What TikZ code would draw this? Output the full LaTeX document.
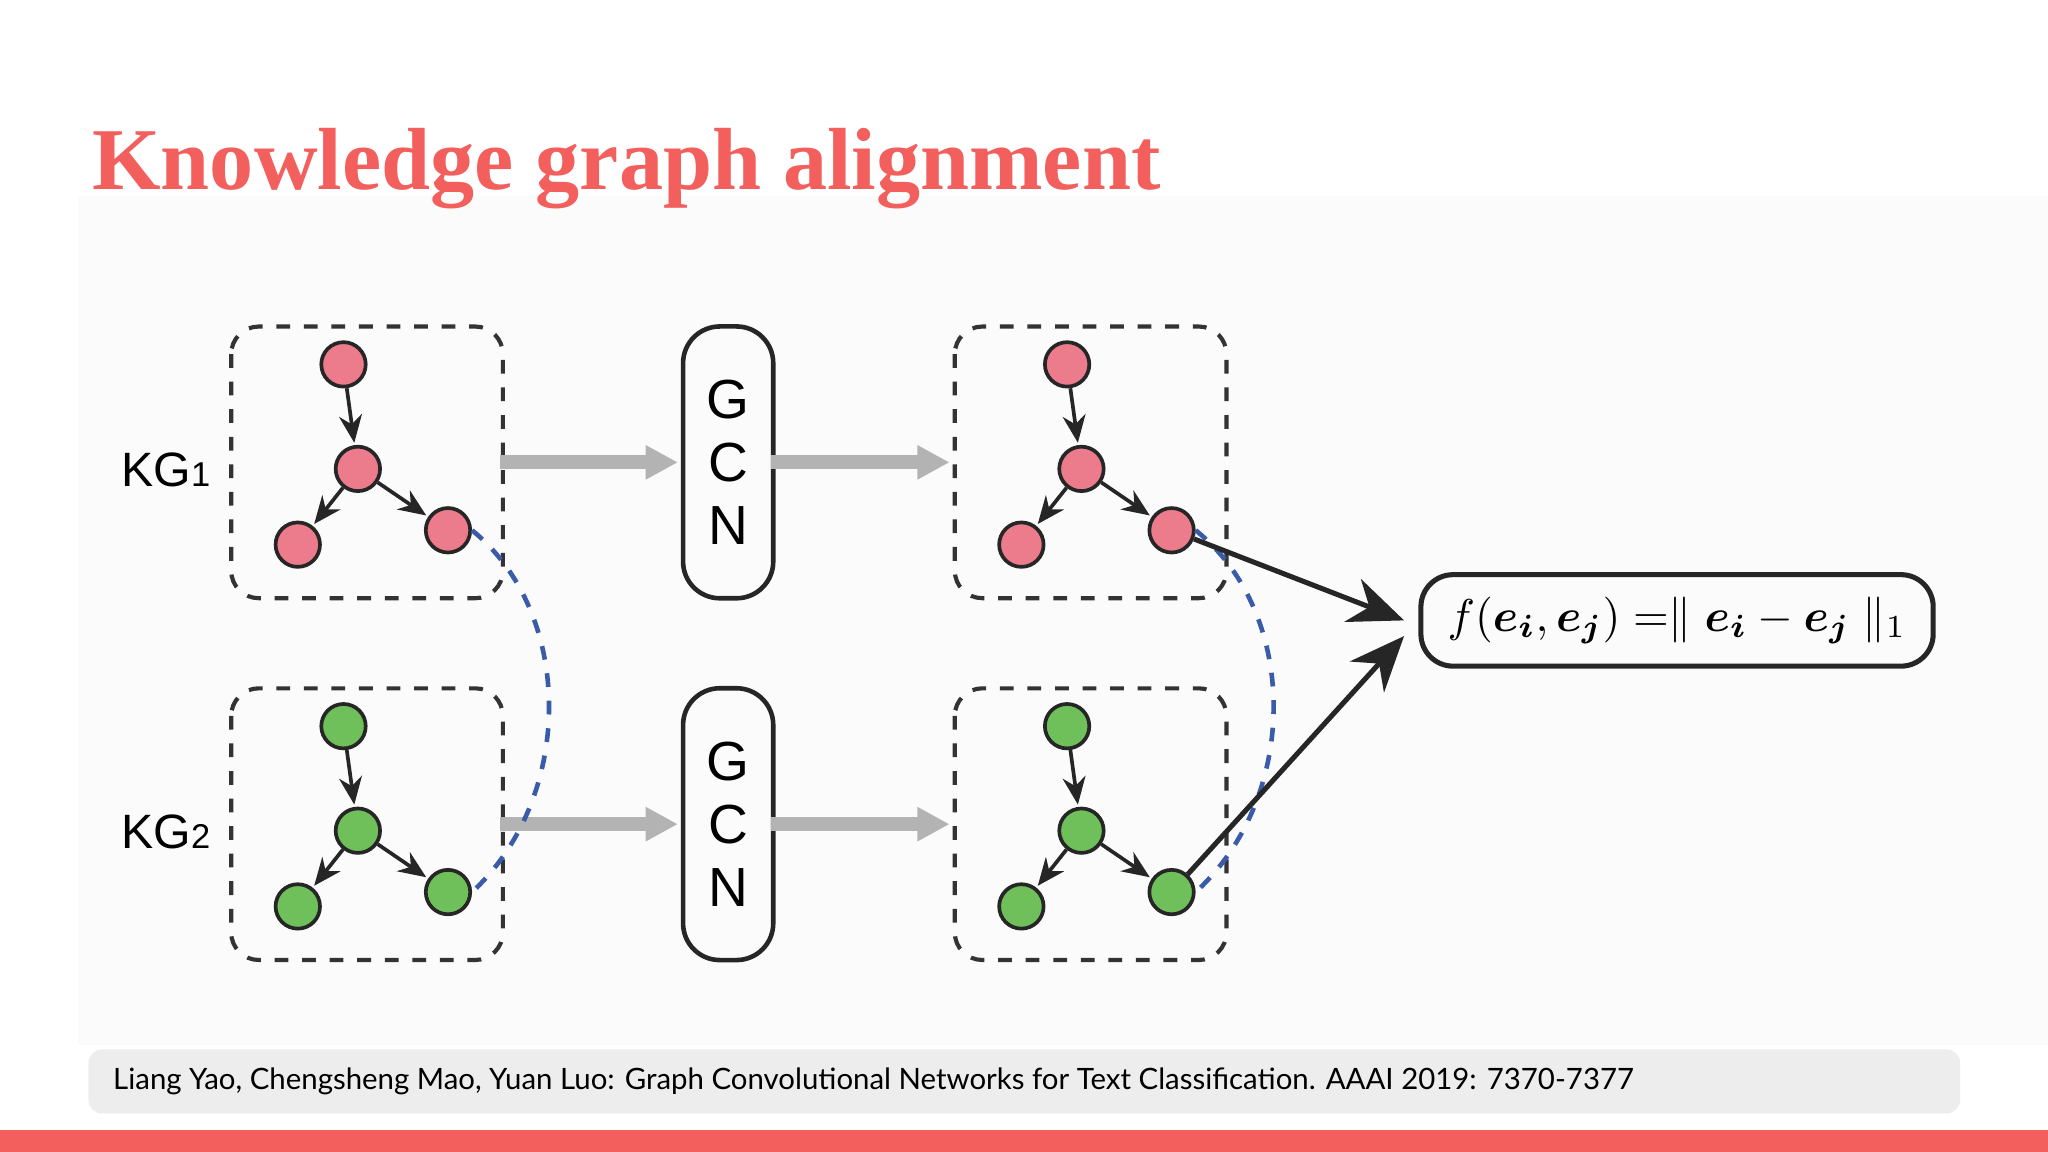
\documentclass[tikz,border=0pt]{standalone}
\usepackage{fontspec}
\usepackage{bm}
\setmainfont{Liberation Serif}
\setsansfont{Liberation Sans}
\newfontfamily\citefont{Lato}
\usetikzlibrary{arrows.meta}
\definecolor{coral}{HTML}{F25F5C}
\definecolor{pinkn}{HTML}{EC7B8B}
\definecolor{greenn}{HTML}{6FBF5A}
\definecolor{bluedash}{HTML}{3A5BA8}
\definecolor{grayarr}{HTML}{B3B3B3}
\tikzset{
  kn/.style={circle,draw=black!85,line width=0.8pt,minimum size=0.34cm,inner sep=0},
  pk/.style={kn,fill=pinkn},
  gn/.style={kn,fill=greenn},
  dbox/.style={draw=black!80,dashed,line width=0.9pt,rounded corners=6pt},
  gcnbox/.style={draw=black!85,line width=1pt,rounded corners=8pt,minimum width=0.69cm,minimum height=2.08cm,font=\sffamily\fontsize{12}{13.7}\selectfont,align=center},
  ed/.style={-{Stealth[length=6pt,width=5pt]},line width=0.8pt,black!85,shorten >=0.5pt},
  garr/.style={-{Triangle[length=7pt,width=7pt]},line width=3pt,grayarr},
  barr/.style={-{Stealth[length=12pt,width=10pt]},line width=1.1pt,black!85},
  bdash/.style={dashed,line width=1pt,bluedash},
}
\begin{document}
\begin{tikzpicture}[x=0.01cm,y=-0.01cm]
\useasboundingbox (0,0) rectangle (1568,882);
\fill[white] (0,0) rectangle (1568,882);
\fill[black!1.5] (60,150) rectangle (1568,800);
\node[anchor=base west,text=coral,font=\bfseries\fontsize{19.2}{22}\selectfont,inner sep=0] (title) at (70,145) {Knowledge graph alignment};
\fill[coral] (0,865) rectangle (1568,882);
\node[fill=black!7,rounded corners=3pt,minimum width=1433*0.01cm,minimum height=0.49cm,anchor=west,inner sep=0] (cite) at (67,828) {};
\node[anchor=west,font=\citefont\fontsize{6.4}{7}\selectfont,inner sep=0] (citet) at (86,828) {Liang Yao, Chengsheng Mao, Yuan Luo: Graph Convolutional Networks for Text Classification. AAAI 2019: 7370-7377};
% boxes
\foreach \n/\x/\y in {b1/177/250,b2/177/527,b3/731/250,b4/731/527}
  \draw[dbox] (\x,\y) rectangle ++(208,208) coordinate (\n);
\node[gcnbox] (g1) at (557.5,354) {G\\C\\N};
\node[gcnbox] (g2) at (557.5,631) {G\\C\\N};
\node[font=\sffamily\fontsize{10.5}{13}\selectfont] (kg1) at (127,360) {KG\fontsize{7.5}{9}\selectfont 1};
\node[font=\sffamily\fontsize{10.5}{13}\selectfont] (kg2) at (127,637) {KG\fontsize{7.5}{9}\selectfont 2};
% graphs
\foreach \p/\dx/\dy/\s in {a/0/0/pk,b/0/277/gn,c/554/0/pk,d/554/277/gn}{
  \node[\s] (\p t) at (263+\dx,279+\dy) {};
  \node[\s] (\p m) at (274+\dx,359+\dy) {};
  \node[\s] (\p l) at (228+\dx,417+\dy) {};
  \node[\s] (\p r) at (343+\dx,406+\dy) {};
  \draw[ed] (\p t) -- (\p m);
  \draw[ed] (\p m) -- (\p l);
  \draw[ed] (\p m) -- (\p r);
}
\coordinate (a1) at (383,354); \coordinate (a2) at (519,354);
\coordinate (a3) at (590,354); \coordinate (a4) at (727,354);
\coordinate (a5) at (383,631); \coordinate (a6) at (519,631);
\coordinate (a7) at (590,631); \coordinate (a8) at (727,631);
\draw[garr] (a1) -- (a2); \draw[garr] (a3) -- (a4);
\draw[garr] (a5) -- (a6); \draw[garr] (a7) -- (a8);
\draw[bdash] (ar.east) .. controls (440,470) and (440,610) .. (br.east);
\draw[bdash] (cr.east) .. controls (995,470) and (995,610) .. (dr.east);
\node[draw=black!85,line width=1.1pt,rounded corners=7pt,minimum width=3.92cm,minimum height=0.70cm,inner sep=0] (f) at (1284,475) {\fontsize{10}{12}\selectfont$f(\bm{e_i},\bm{e_j}) =\parallel \bm{e_i} - \bm{e_j} \parallel_1$};
\coordinate (fa) at (1075,475); \coordinate (fb) at (1075,487);
\draw[barr] (cr) -- (fa);
\draw[barr] (dr) -- (fb);
\end{tikzpicture}
\end{document}
